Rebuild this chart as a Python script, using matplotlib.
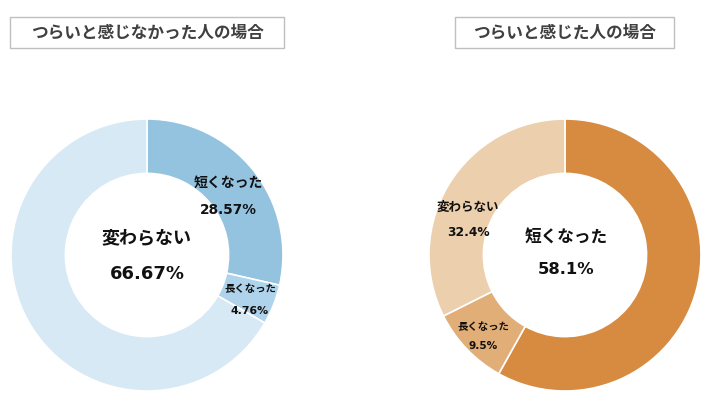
import matplotlib
matplotlib.use("Agg")
import matplotlib.pyplot as plt
from matplotlib.patches import Rectangle

plt.rcParams['font.family'] = ['Noto Sans CJK JP', 'DejaVu Sans']

# data
titles = ["つらいと感じなかった人の場合", "つらいと感じた人の場合"]
categories = ["短くなった", "長くなった", "変わらない"]
left_values = [28.57, 4.76, 66.67]
left_labels = ["28.57%", "4.76%", "66.67%"]
right_values = [58.1, 9.5, 32.4]
right_labels = ["58.1%", "9.5%", "32.4%"]
left_colors = ["#94C3E0", "#AED3EA", "#D7E9F4"]
right_colors = ["#D68B41", "#E1AE77", "#ECD0AD"]

W, H = 714, 408
fig = plt.figure(figsize=(W / 100, H / 100), dpi=100)
fig.patch.set_facecolor("white")


def px_axes(cx, cy, r):
    return fig.add_axes([(cx - r) / W, (H - cy - r) / H, 2 * r / W, 2 * r / H])


def donut(ax, values, colors):
    ax.pie(values, colors=colors, startangle=90, counterclock=False,
           radius=1.0, wedgeprops=dict(width=0.4, edgecolor="white", linewidth=1.2))
    ax.set_xlim(-1, 1)
    ax.set_ylim(-1, 1)
    ax.set_aspect("equal")
    ax.axis("off")


axL = px_axes(147, 255, 136)
donut(axL, left_values, left_colors)
axR = px_axes(565, 255, 136)
donut(axR, right_values, right_colors)

kw = dict(ha="center", va="center", fontweight="bold", color="#111111")
num = dict(kw, family=['DejaVu Sans', 'Noto Sans CJK JP'])
# left labels
axL.text(0.596, 0.53, categories[0], fontsize=10, **kw)
axL.text(0.596, 0.33, left_labels[0], fontsize=9.8, **num)
axL.text(0.757, -0.25, categories[1], fontsize=7.5, **kw)
axL.text(0.757, -0.41, left_labels[1], fontsize=7.8, **num)
axL.text(0.0, 0.125, categories[2], fontsize=13, **kw)
axL.text(0.0, -0.14, left_labels[2], fontsize=13, **num)
# right labels
axR.text(0.007, 0.125, categories[0], fontsize=12, **kw)
axR.text(0.007, -0.11, right_labels[0], fontsize=11.8, **num)
axR.text(-0.603, -0.53, categories[1], fontsize=7.5, **kw)
axR.text(-0.603, -0.67, right_labels[1], fontsize=7.6, **num)
axR.text(-0.713, 0.353, categories[2], fontsize=9, **kw)
axR.text(-0.713, 0.162, right_labels[2], fontsize=8.8, **num)

# title boxes
for (x0, x1), t in zip([(10, 284), (455, 674)], titles):
    fig.patches.append(Rectangle((x0 / W, (H - 48) / H), (x1 - x0) / W, 31 / H,
                                 transform=fig.transFigure, fill=False,
                                 edgecolor="#BFBFBF", linewidth=1.0))
    fig.text((x0 + x1) / 2 / W, (H - 32.5) / H, t, ha="center", va="center",
             fontsize=12, fontweight="bold", color="#404040")

fig.savefig("out.png", dpi=100, facecolor="white")
